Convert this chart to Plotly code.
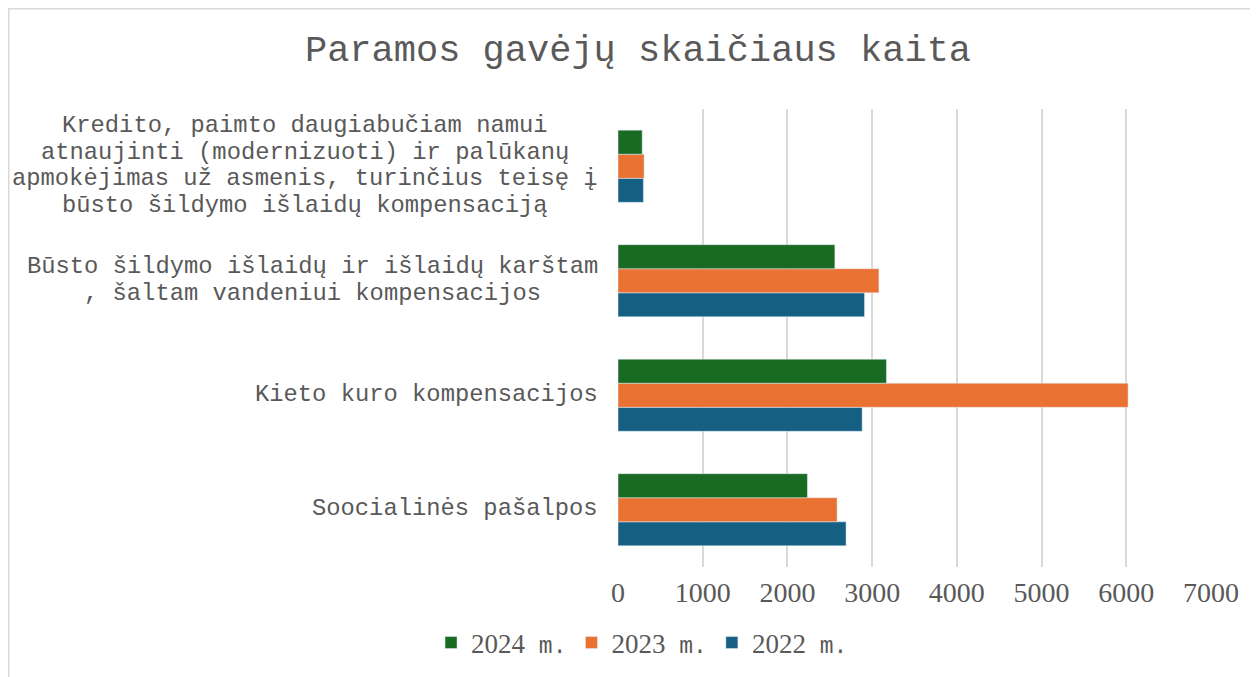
import plotly.graph_objects as go

# Kategorijos (iš apačios į viršų, kaip piešia plotly)
categories = [
    "Soocialinės pašalpos",
    "Kieto kuro kompensacijos",
    "Būsto šildymo išlaidų ir išlaidų karštam<br>, šaltam vandeniui kompensacijos",
    "Kredito, paimto daugiabučiam namui<br>atnaujinti (modernizuoti) ir palūkanų<br>"
    "apmokėjimas už asmenis, turinčius teisę į<br>būsto šildymo išlaidų kompensaciją",
]
vals_2022 = [2692, 2882, 2910, 300]
vals_2023 = [2586, 6021, 3080, 308]
vals_2024 = [2236, 3169, 2560, 286]

x_ticks = [0, 1000, 2000, 3000, 4000, 5000, 6000, 7000]

TXT = "#595959"
MONO = "Liberation Mono, Courier New, monospace"
SERIF = "Liberation Serif, Times New Roman, serif"
CAT_SIZE = 23.8
LINE_H = 26.5

fig = go.Figure()
for name, vals, col in (("2022", vals_2022, "#156082"),
                        ("2023", vals_2023, "#E97132"),
                        ("2024", vals_2024, "#196B24")):
    fig.add_trace(go.Bar(
        y=categories, x=vals, orientation="h", marker_color=col,
        name=(f"{name}<span style='font-family:{MONO};font-size:23px'>"
              " m.</span>")))

# kategorijų pavadinimai – kiekviena eilutė atskirai, centruota bloke
for c in categories:
    lines = c.split("<br>")
    block_w = max(len(s) for s in lines) * 0.6 * CAT_SIZE
    n = len(lines)
    for i, s in enumerate(lines):
        fig.add_annotation(x=-0.034, xref="paper", y=c, yref="y", text=s,
                           xanchor="center", xshift=-block_w / 2,
                           yanchor="middle", yshift=((n - 1) / 2 - i) * LINE_H + 1,
                           showarrow=False,
                           font={"family": MONO, "size": CAT_SIZE, "color": TXT})

# išorinis rėmelis
fig.add_shape(type="rect", xref="paper", yref="paper",
              x0=-1.0274, x1=1.2, y0=-0.4, y1=1.2189,
              line={"color": "#d9d9d9", "width": 1.5}, layer="below")

fig.update_layout(
    width=1258, height=677,
    margin={"l": 610, "r": 55, "t": 101, "b": 118, "autoexpand": False},
    paper_bgcolor="white", plot_bgcolor="white",
    barmode="group", bargap=0.37, bargroupgap=0,
    title={"text": "Paramos gavėjų skaičiaus kaita", "x": 0.5008, "xanchor": "center",
           "y": 0.941, "yanchor": "middle",
           "font": {"family": MONO, "size": 37, "color": TXT}},
    legend={"orientation": "h", "traceorder": "reversed",
            "xref": "container", "yref": "container",
            "x": 0.504, "xanchor": "center", "y": 0.062, "yanchor": "middle",
            "font": {"family": SERIF, "size": 27, "color": TXT},
            "itemwidth": 30},
    showlegend=True,
)
fig.update_xaxes(range=[0, 7000], tickvals=x_ticks, showgrid=True,
                 gridcolor="#d9d9d9", gridwidth=1.5, zeroline=False,
                 showline=False, ticks="", ticklabelstandoff=6,
                 tickfont={"family": SERIF, "size": 28, "color": TXT})
fig.update_yaxes(showticklabels=False, showgrid=False, zeroline=False,
                 showline=False, ticks="")

fig.write_html("out.html")
